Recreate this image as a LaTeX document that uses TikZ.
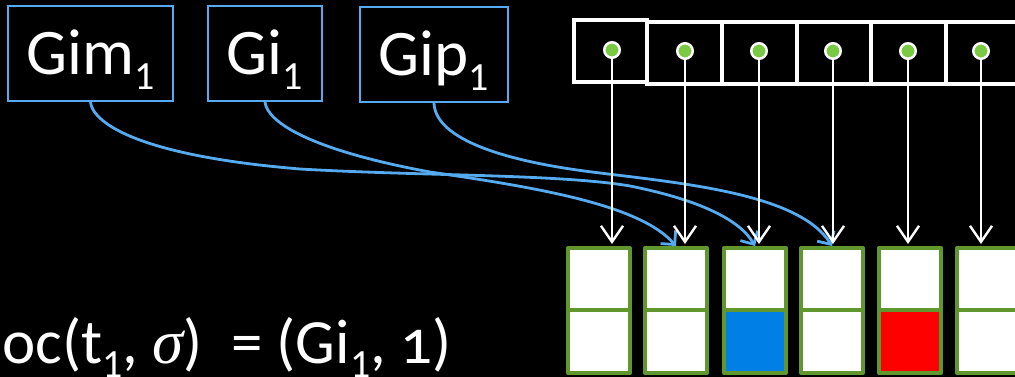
\documentclass[tikz,border=0pt]{standalone}
\usepackage{fontspec}
\setmainfont{Carlito}
\newfontfamily\sigmafont{Liberation Serif}
\usetikzlibrary{arrows.meta}

\definecolor{linkblue}{RGB}{85,170,240}
\definecolor{cellgreen}{RGB}{96,152,46}
\definecolor{dotgreen}{RGB}{122,201,67}
\definecolor{slotblue}{RGB}{0,128,230}
\definecolor{slotred}{RGB}{255,0,0}

\newcommand\bigtext{\fontsize{65}{72}\selectfont}
\newcommand\eqtext{\fontsize{63}{70}\selectfont}
\newcommand\subone{\raisebox{-0.23em}{\fontsize{40}{40}\selectfont 1}}

\begin{document}
\begin{tikzpicture}[x=1pt,y=-1pt,
  namebox/.style={draw=linkblue,line width=2pt,text=white,inner sep=0pt,
    text height=60pt,text depth=17pt,font=\bigtext,minimum height=95pt},
  ptrcell/.style={draw=white,line width=3.5pt,minimum height=62pt,inner sep=0pt},
  ptrdot/.style={circle,draw=white,fill=dotgreen,line width=2.5pt,minimum size=15.5pt,inner sep=0pt},
  slot/.style={draw=cellgreen,line width=4pt,line join=round,minimum width=62pt,inner sep=0pt},
  ptrarrow/.style={draw=white,line width=2.4pt,shorten >=2pt,-{Straight Barb[length=16pt,width=22pt]}},
  linkarrow/.style={draw=linkblue,line width=2.8pt,-{Straight Barb[length=10pt,width=20pt]}},
]
% canvas
\fill[black] (0,0) rectangle (1015,377);
\useasboundingbox (0,0) rectangle (1015,377);

% name boxes
\node[namebox,minimum width=165pt] (gim) at (90.5,53.5) {Gim\subone};
\node[namebox,minimum width=114pt] (gi)  at (265,53.5) {Gi\subone};
\node[namebox,minimum width=148pt] (gip) at (434,54.5) {Gip\subone};

% pointer array
\node[ptrcell,minimum width=73pt] (a1) at (610.5,51) {};
\node[ptrcell,minimum width=75pt] (a2) at (684.5,53) {};
\node[ptrcell,minimum width=75pt] (a3) at (759.5,53) {};
\node[ptrcell,minimum width=74pt] (a4) at (834,53) {};
\node[ptrcell,minimum width=75pt] (a5) at (908.5,53) {};
\node[ptrcell,minimum width=75pt] (a6) at (983.5,53) {};

\node[ptrdot] (d1) at (612,50) {};
\node[ptrdot] (d2) at (685,51) {};
\node[ptrdot] (d3) at (759,51) {};
\node[ptrdot] (d4) at (833,51) {};
\node[ptrdot] (d5) at (908,51) {};
\node[ptrdot] (d6) at (981,51) {};

% slot columns
\foreach \i/\x/\c in {1/599/white,2/676/white,3/755/slotblue,4/832/white,5/910/slotred,6/988/white}{
  \node[slot,fill=white,minimum height=62pt] (u\i) at (\x,279) {};
  \node[slot,fill=\c,minimum height=63pt] (l\i) at (\x,341.5) {};
}

% links from the name boxes
\draw[linkarrow] (gim.south) .. controls (92,120) and (130,155) .. (300,169)
  .. controls (420,176) and (560,174) .. (630,186)
  .. controls (700,200) and (740,220) .. (u3.north);
\draw[linkarrow] (gi.south) .. controls (267,122) and (310,150) .. (430,172)
  .. controls (540,188) and (640,205) .. (u2.north);
\draw[linkarrow] (gip.south) .. controls (435,135) and (490,160) .. (600,173)
  .. controls (690,184) and (800,195) .. (u4.north);

% pointers
\foreach \i in {1,...,6}
  \draw[ptrarrow] (d\i.south) -- (d\i |- u\i.north);

% equation
\node[anchor=base west,inner sep=0pt,text=white,font=\eqtext] (eq) at (2,363)
  {oc(t\subone, {\sigmafont\itshape σ})\ \ = (Gi\subone, {\addfontfeatures{Numbers=OldStyle}1})};
\end{tikzpicture}
\end{document}
